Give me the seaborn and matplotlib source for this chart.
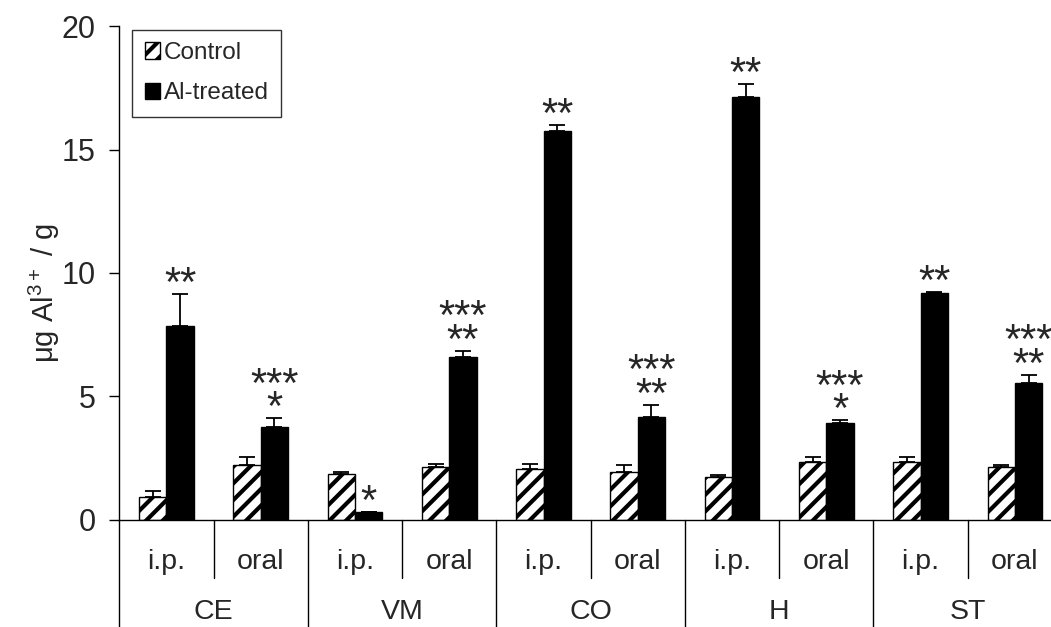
import numpy as np
import pandas as pd
import matplotlib
matplotlib.use("Agg")
import matplotlib.pyplot as plt
import matplotlib.transforms as mtransforms
import seaborn as sns

# values (mean and upward error, ug Al3+ per g)
regions = ['CE', 'VM', 'CO', 'H', 'ST']
routes = ['i.p.', 'oral']
control_mean = [0.94, 2.23, 1.85, 2.13, 2.05, 1.93, 1.75, 2.36, 2.34, 2.16]
control_err = [0.25, 0.33, 0.08, 0.15, 0.20, 0.31, 0.08, 0.20, 0.22, 0.05]
al_mean = [7.85, 3.78, 0.32, 6.61, 15.74, 4.16, 17.13, 3.91, 9.18, 5.56]
al_err = [1.29, 0.34, 0.0, 0.24, 0.27, 0.51, 0.53, 0.13, 0.06, 0.32]
stars = ['**', '***\n*', '*', '***\n**', '**', '***\n**', '**', '***\n*', '**', '***\n**']
groups = ['Control', 'Al-treated']

sites = [r + ' ' + p for r in regions for p in routes]
df = pd.DataFrame({
    'site': sites * 2,
    'group': [groups[0]] * len(sites) + [groups[1]] * len(sites),
    'value': control_mean + al_mean,
    'err': control_err + al_err,
})

sns.set_style('ticks')
plt.rcParams['font.family'] = ['Liberation Sans', 'DejaVu Sans']
plt.rcParams['mathtext.fontset'] = 'custom'
plt.rcParams['mathtext.rm'] = 'Liberation Sans'
plt.rcParams['hatch.linewidth'] = 3.0
plt.rcParams['hatch.color'] = 'black'

fig = plt.figure(figsize=(10.51, 6.27), dpi=100)
ax = fig.add_axes([0.1135, 0.1707, 0.897, 0.7878])

sns.barplot(data=df, x='site', y='value', hue='group', order=sites, hue_order=groups,
            palette={'Control': 'white', 'Al-treated': 'black'}, width=0.58, gap=0,
            errorbar=None, edgecolor='black', linewidth=1, ax=ax)

for bar in ax.containers[0]:
    bar.set_hatch('//')

# upward error bars + significance marks
for cont, means, errs in zip(ax.containers, [control_mean, al_mean], [control_err, al_err]):
    xs = [b.get_x() + b.get_width() / 2 for b in cont]
    ax.errorbar(xs, means, yerr=[np.zeros(len(errs)), errs], fmt='none', ecolor='black',
                elinewidth=1.3, capsize=6, capthick=1.3, zorder=1)

for b, m, e, s in zip(ax.containers[1], al_mean, al_err, stars):
    ax.annotate(s, (b.get_x() + b.get_width() / 2, m + e), xytext=(0, -8),
                textcoords='offset points', ha='center', va='bottom',
                fontsize=30, linespacing=0.47)

handles = [ax.containers[0][0], ax.containers[1][0]]
if ax.get_legend() is not None:
    ax.get_legend().remove()
leg = ax.legend(handles, groups, loc='upper left', bbox_to_anchor=(0.014, 0.992),
                fontsize=17.5, frameon=True, fancybox=False, edgecolor='black',
                handlelength=0.65, handleheight=0.65, handletextpad=0.15,
                borderpad=0.5, labelspacing=0.75, borderaxespad=0)
leg.get_frame().set_linewidth(1)

ax.set_ylim(0, 20)
ax.set_xlim(-0.5, len(sites) - 0.5)
ax.set_yticks([0, 5, 10, 15, 20])
ax.tick_params(axis='y', labelsize=22, length=7, width=1, pad=10, color='black')
ax.set_ylabel(r'μg Al$^{\mathregular{3+}}$ / g', fontsize=21, va='center')
ax.yaxis.set_label_coords(-0.079, 0.46)
ax.set_xlabel('')
ax.set_xticks([])
sns.despine(ax=ax)
ax.spines['left'].set_linewidth(1)
ax.spines['bottom'].set_linewidth(1)
ax.spines['left'].set_color('black')
ax.spines['bottom'].set_color('black')

# two-level category axis below the bars
trans = mtransforms.blended_transform_factory(ax.transData, ax.transAxes)
for i, site in enumerate(sites):
    ax.text(i, -0.085, routes[i % 2], transform=trans, ha='center', va='center', fontsize=20.5)
    low = -0.25 if i % 2 == 0 else -0.117
    ax.plot([i - 0.5, i - 0.5], [0, low], transform=trans, color='black', lw=1, clip_on=False)
for j, reg in enumerate(regions):
    ax.text(2 * j + 0.5, -0.186, reg, transform=trans, ha='center', va='center', fontsize=20.5)

fig.savefig('out.png', dpi=100)
